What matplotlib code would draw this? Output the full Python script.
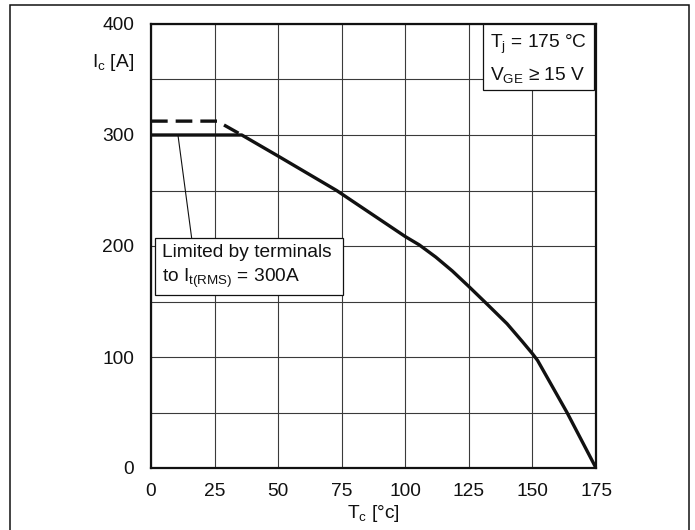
import matplotlib
matplotlib.use("Agg")
import matplotlib.pyplot as plt
from matplotlib.patches import Rectangle

plt.rcParams['font.family'] = ['Liberation Sans', 'DejaVu Sans']
plt.rcParams['mathtext.fontset'] = 'custom'
plt.rcParams['mathtext.rm'] = 'Liberation Sans'
plt.rcParams['mathtext.it'] = 'Liberation Sans'
plt.rcParams['mathtext.default'] = 'rm'

# Data
tc_solid = [0, 35.7, 50, 73, 100, 105.5, 112, 118.5, 125, 132, 140, 146, 150, 152, 163.6, 175]
ic_solid = [300, 300, 281, 250, 208.5, 201, 190, 177.5, 163.5, 148, 130, 114, 103, 97, 50, 0]
tc_dash = [0, 26, 35.7]
ic_dash = [312.5, 312.5, 300]
leader_x = [10.6, 16]
leader_y = [300, 207]
x_ticks = [0, 25, 50, 75, 100, 125, 150, 175]
y_ticks = [0, 100, 200, 300, 400]
x_grid = [0, 25, 50, 75, 100, 125, 150, 175]
y_grid = [0, 50, 100, 150, 200, 250, 300, 350, 400]

FS = 13.8
INK = '#111111'

fig = plt.figure(figsize=(6.95, 5.30), dpi=100)
ax = fig.add_axes([151/695, 62/530, 445/695, 444/530])

for xv in x_grid:
    ax.axvline(xv, color='#3a3a3a', lw=0.8, zorder=1)
for yv in y_grid:
    ax.axhline(yv, color='#3a3a3a', lw=0.8, zorder=1)

ax.plot(tc_solid, ic_solid, color=INK, lw=2.4, solid_joinstyle='round', zorder=3)
ax.plot(tc_dash, ic_dash, color=INK, lw=2.4, dashes=(5, 2.4), zorder=3)
ax.plot(leader_x, leader_y, color=INK, lw=0.8, zorder=3)

ax.set_xlim(0, 175)
ax.set_ylim(0, 400)
ax.set_xticks(x_ticks)
ax.set_yticks(y_ticks)
ax.tick_params(length=0, labelsize=FS, colors=INK)
ax.tick_params(axis='y', pad=12)
ax.tick_params(axis='x', pad=11)
for s in ax.spines.values():
    s.set_linewidth(1.6)
    s.set_color(INK)

ax.text(-0.038, 0.914, r'I$_{\mathrm{c}}$ [A]', transform=ax.transAxes,
        ha='right', va='center', fontsize=FS, color=INK)
ax.set_xlabel(r'T$_{\mathrm{c}}$ [°c]', fontsize=FS, labelpad=2, color=INK)

# Tj box
ax.add_patch(Rectangle((0.746, 0.851), 0.2495, 0.149, transform=ax.transAxes,
                       facecolor='white', edgecolor=INK, lw=0.9, zorder=4))
ax.text(0.762, 0.953, r'T$_{\mathrm{j}}$ = 175 °C', transform=ax.transAxes,
        ha='left', va='center', fontsize=FS, color=INK, zorder=5)
ax.text(0.762, 0.886, r'V$_{\mathrm{GE}}$ ≥ 15 V', transform=ax.transAxes,
        ha='left', va='center', fontsize=FS, color=INK, zorder=5)

# Limited box
ax.add_patch(Rectangle((0.009, 0.39), 0.422, 0.128, transform=ax.transAxes,
                       facecolor='white', edgecolor=INK, lw=0.9, zorder=4))
ax.text(0.024, 0.486, 'Limited by terminals', transform=ax.transAxes,
        ha='left', va='center', fontsize=FS, color=INK, zorder=5)
ax.text(0.024, 0.428, r'to I$_{\mathrm{t(RMS)}}$ = 300A', transform=ax.transAxes,
        ha='left', va='center', fontsize=FS, color=INK, zorder=5)

# Figure frame
fig.patches.append(Rectangle((10/695, -0.02), 679/695, 1.02 - 5/530,
                             transform=fig.transFigure, fill=False,
                             edgecolor=INK, lw=1.1))

fig.savefig('out.png', dpi=100)
